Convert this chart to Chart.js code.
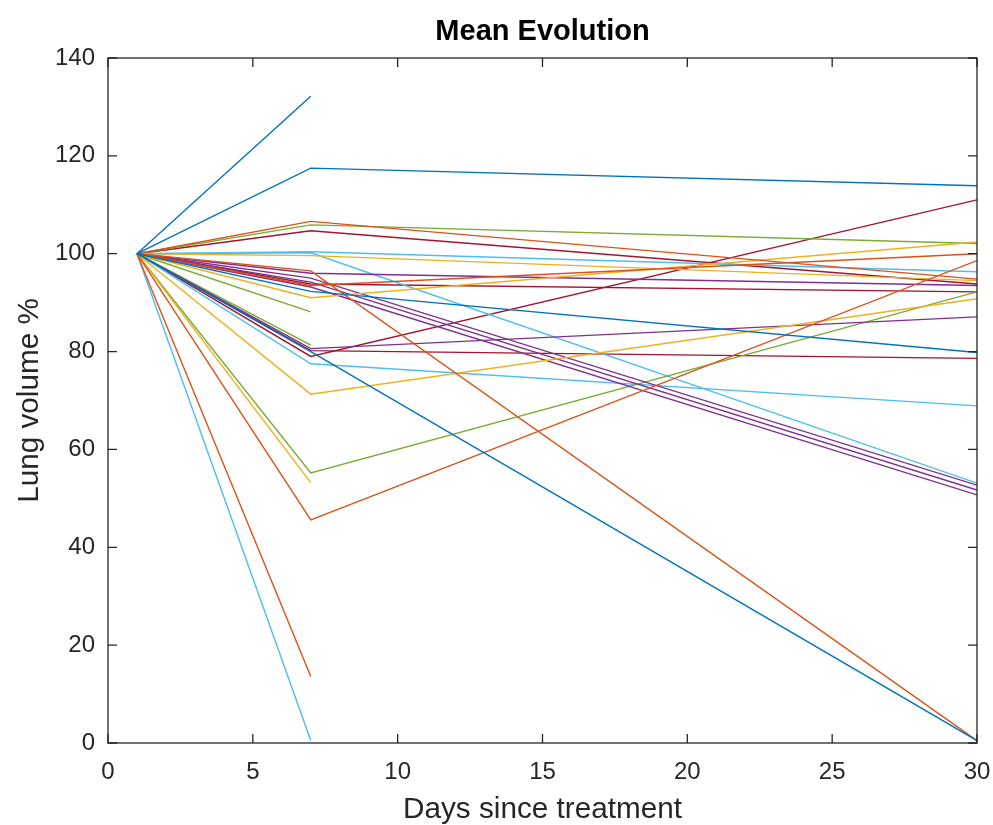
<!DOCTYPE html>
<html><head><meta charset="utf-8">
<script src="https://cdn.jsdelivr.net/npm/chart.js@4/dist/chart.umd.min.js"></script>
<style>html,body{margin:0;padding:0;background:#fff;overflow:hidden}</style>
</head><body>
<canvas id="c" width="993" height="825"></canvas>
<script>
// ---- data ----
const days = [1, 7, 30];
const xTickStep = 5;
const yTickStep = 20;
const titleText = 'Mean Evolution';
const xLabel = 'Days since treatment';
const yLabel = 'Lung volume %';

// MATLAB default colour order
const colorOrder = ['#0072BD', '#D95319', '#EDB120', '#7E2F8E', '#77AC30', '#4DBEEE', '#A2142F'];

// values at days 1, 7, 30 (shorter arrays = no later measurement)
const blueSeries = [
  [100, 132.2],
  [100, 117.5, 113.9],
  [100, 92.3, 79.8],
  [100, 80.0, 0.5]
];
const orangeSeries = [
  [100, 106.6, 94.8],
  [100, 96.5, 0.5],
  [100, 45.6, 98.6],
  [100, 13.6],
  [100, 93.5, 100.0]
];
const yellowSeries = [
  [100, 99.6, 94.5],
  [100, 91.0, 102.4],
  [100, 71.3, 90.8],
  [100, 53.2]
];
const purpleSeries = [
  [100, 96.0, 93.5],
  [100, 80.6, 87.1],
  [100, 95.0, 52.7],
  [100, 94.2, 51.7],
  [100, 93.2, 50.7]
];
const greenSeries = [
  [100, 105.9, 102.1],
  [100, 88.1],
  [100, 55.2, 92.2],
  [100, 81.3]
];
const lightBlueSeries = [
  [100, 0.5],
  [100, 100.4, 96.3],
  [100, 100.2, 53.1],
  [100, 77.5, 68.9]
];
const darkRedSeries = [
  [100, 104.7, 93.8],
  [100, 79.0, 111.0],
  [100, 80.2, 78.6],
  [100, 93.8, 92.2]
];

const groups = [blueSeries, orangeSeries, yellowSeries, purpleSeries, greenSeries, lightBlueSeries, darkRedSeries];

const datasets = [];
groups.forEach((grp, gi) => {
  grp.forEach(vals => {
    datasets.push({
      data: vals.map((v, i) => ({x: days[i], y: v})),
      borderColor: colorOrder[gi],
      borderWidth: 1.4,
      pointRadius: 0,
      tension: 0,
      fill: false
    });
  });
});

const FONT = '"Liberation Sans", Arial, Helvetica, sans-serif';
const AX = '#262626';

const boxTicks = {
  id: 'boxTicks',
  afterDatasetsDraw(chart) {
    const {ctx, chartArea: a, scales: {x, y}} = chart;
    ctx.save();
    ctx.strokeStyle = AX;
    ctx.lineWidth = 1.3;
    ctx.strokeRect(a.left, a.top, a.right - a.left, a.bottom - a.top);
    const L = 9;
    ctx.beginPath();
    x.ticks.forEach(t => {
      const px = x.getPixelForValue(t.value);
      ctx.moveTo(px, a.bottom); ctx.lineTo(px, a.bottom - L);
      ctx.moveTo(px, a.top); ctx.lineTo(px, a.top + L);
    });
    y.ticks.forEach(t => {
      const py = y.getPixelForValue(t.value);
      ctx.moveTo(a.left, py); ctx.lineTo(a.left + L, py);
      ctx.moveTo(a.right, py); ctx.lineTo(a.right - L, py);
    });
    ctx.stroke();
    ctx.restore();
  }
};

new Chart(document.getElementById('c'), {
  type: 'line',
  data: {datasets},
  options: {
    responsive: false,
    animation: false,
    layout: {padding: {left: 0, right: 16, top: 0, bottom: 0}},
    plugins: {
      legend: {display: false},
      tooltip: {enabled: false},
      title: {
        display: true, text: titleText, color: '#000', fullSize: false,
        font: {family: FONT, size: 29, weight: 'bold', lineHeight: 1},
        padding: {top: 17.5, bottom: 11.5}
      }
    },
    scales: {
      x: {
        type: 'linear', min: 0, max: 30,
        ticks: {stepSize: xTickStep, color: AX, font: {family: FONT, size: 24}, padding: 15, maxRotation: 0},
        grid: {display: false, drawTicks: false},
        border: {display: false},
        title: {display: true, text: xLabel, color: AX, font: {family: FONT, size: 29.7, lineHeight: 1}, padding: {top: 0, bottom: 0}},
        afterFit(s) { s.height = 82; s.paddingLeft = 0; s.paddingRight = 0; }
      },
      y: {
        type: 'linear', min: 0, max: 140,
        ticks: {stepSize: yTickStep, color: AX, font: {family: FONT, size: 24}, padding: 13},
        grid: {display: false, drawTicks: false},
        border: {display: false},
        title: {display: true, text: yLabel, color: AX, font: {family: FONT, size: 29.7, lineHeight: 1}, padding: {top: 15, bottom: 0}},
        afterFit(s) { s.width = 108; s.paddingTop = 0; s.paddingBottom = 0; }
      }
    }
  },
  plugins: [boxTicks]
});
</script>
</body></html>
